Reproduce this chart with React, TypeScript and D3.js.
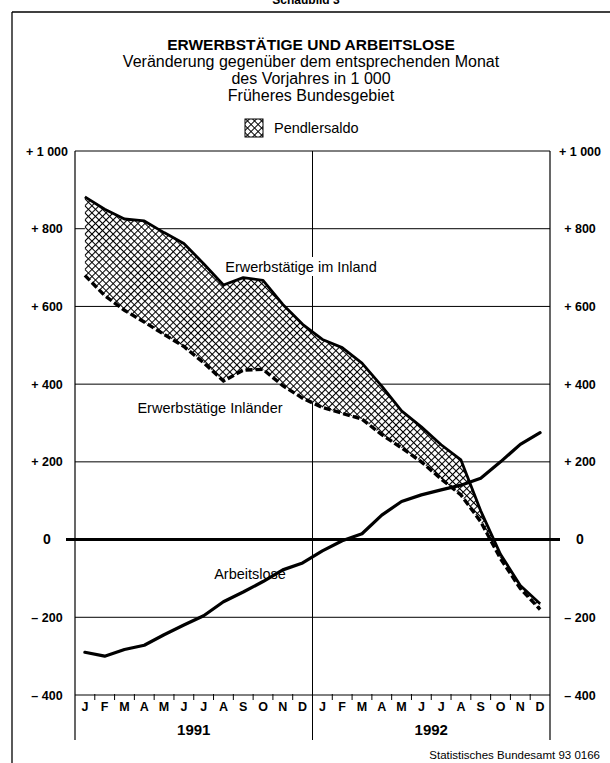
import React from "react";
import * as d3 from "d3";

const monthLetters = ["J", "F", "M", "A", "M", "J", "J", "A", "S", "O", "N", "D"];
const years = ["1991", "1992"];
const yTicks = [1000, 800, 600, 400, 200, 0, -200, -400];
const yTickLabels = ["+ 1 000", "+ 800", "+ 600", "+ 400", "+ 200", "0", "– 200", "– 400"];

// Erwerbstätige im Inland (Veränderung in 1 000)
const inland = [882, 850, 825, 820, 790, 762, 710, 655, 674, 667, 605, 554,
  515, 494, 454, 395, 331, 290, 244, 205, 74, -38, -118, -165];
// Erwerbstätige Inländer
const inlaender = [680, 628, 590, 560, 528, 497, 455, 408, 436, 438, 396, 364,
  340, 325, 310, 270, 236, 200, 156, 115, 46, -49, -126, -180];
// Arbeitslose
const arbeitslose = [-290, -300, -283, -272, -245, -220, -196, -160, -135, -108, -78, -60,
  -29, -3, 15, 63, 98, 115, 128, 140, 158, 200, 245, 275];

const FONT = "'Liberation Sans', Arial, Helvetica, sans-serif";

export default function App() {
  const W = 610, H = 763;
  const x = d3.scaleLinear().domain([0, 24]).range([75, 550]);
  const y = d3.scaleLinear().domain([-400, 1000]).range([695, 151]);
  const idx = d3.range(24);
  const px = (i: number) => x(i + 0.5);

  const area = d3.area<number>()
    .x((i) => px(i))
    .y0((i) => y(inlaender[i]))
    .y1((i) => y(inland[i]));
  const lineOf = (arr: number[]) =>
    d3.line<number>().x((i) => px(i)).y((i) => y(arr[i]))(idx) || "";

  const titleLines = [
    "Veränderung gegenüber dem entsprechenden Monat",
    "des Vorjahres in 1 000",
    "Früheres Bundesgebiet",
  ];

  return (
    <svg width={W} height={H} style={{ position: "absolute", left: 0, top: 0, background: "#fff" }}
      fontFamily={FONT}>
      <defs>
        <pattern id="hatch" patternUnits="userSpaceOnUse" width={5} height={5}
          patternTransform="rotate(45)">
          <rect width={5} height={5} fill="#fff" />
          <path d="M0,0 H5 M0,0 V5" stroke="#000" strokeWidth={2.1} />
        </pattern>
      </defs>
      <rect width={W} height={H} fill="#fff" />
      {/* cut-off heading */}
      <text x={306} y={4} textAnchor="middle" fontSize={12} fontWeight="bold">Schaubild 3</text>
      {/* outer frame */}
      <line x1={12} x2={610} y1={12} y2={12} stroke="#000" strokeWidth={1.3} />
      <line x1={12} x2={12} y1={12} y2={763} stroke="#000" strokeWidth={1.3} />

      {/* titles */}
      <text x={311} y={50} textAnchor="middle" fontSize={15.5} fontWeight="bold">ERWERBSTÄTIGE UND ARBEITSLOSE</text>
      {titleLines.map((t, i) => (
        <text key={i} x={311} y={67 + i * 17} textAnchor="middle" fontSize={16}>{t}</text>
      ))}

      {/* legend */}
      <rect x={245} y={119} width={18} height={18} fill="url(#hatch)" stroke="#000" strokeWidth={1} />
      <text x={274} y={133} fontSize={14.5}>Pendlersaldo</text>

      {/* horizontal grid */}
      {yTicks.filter((v) => v !== 0).map((v) => (
        <line key={v} x1={x(0)} x2={x(24)} y1={y(v)} y2={y(v)} stroke="#000" strokeWidth={1} />
      ))}
      {/* vertical frame lines */}
      <line x1={x(0)} x2={x(0)} y1={y(1000)} y2={740} stroke="#000" strokeWidth={1.2} />
      <line x1={x(12)} x2={x(12)} y1={y(1000)} y2={740} stroke="#000" strokeWidth={1} />
      <line x1={x(24)} x2={x(24)} y1={y(1000)} y2={740} stroke="#000" strokeWidth={1.2} />

      {/* month ticks */}
      {d3.range(1, 24).filter((i) => i !== 12).map((i) => (
        <line key={i} x1={x(i)} x2={x(i)} y1={y(-400) - 1} y2={y(-400) + 5} stroke="#000" strokeWidth={1} />
      ))}

      {/* y labels */}
      {yTicks.map((v, i) => (
        <g key={v}>
          <text x={47} y={y(v) + 4.5} textAnchor="middle" fontSize={v === 0 ? 14 : 12.5}
            fontWeight="bold">{yTickLabels[i]}</text>
          <text x={580} y={y(v) + 4.5} textAnchor="middle" fontSize={v === 0 ? 14 : 12.5}
            fontWeight="bold">{yTickLabels[i]}</text>
        </g>
      ))}

      {/* month letters and years */}
      {idx.map((i) => (
        <text key={i} x={px(i)} y={711} textAnchor="middle" fontSize={12.5} fontWeight="bold">
          {monthLetters[i % 12]}
        </text>
      ))}
      {years.map((yr, k) => (
        <text key={yr} x={x(k * 12 + 6)} y={735} textAnchor="middle" fontSize={15} fontWeight="bold">{yr}</text>
      ))}

      {/* Pendlersaldo area */}
      <path d={area(idx) || ""} fill="url(#hatch)" stroke="none" />
      <path d={lineOf(inland)} fill="none" stroke="#000" strokeWidth={2.8} strokeLinejoin="round" />
      <path d={lineOf(inlaender)} fill="none" stroke="#000" strokeWidth={3.4} strokeDasharray="7,3" />

      {/* zero line */}
      <line x1={66} x2={560} y1={y(0)} y2={y(0)} stroke="#000" strokeWidth={3} />

      {/* Arbeitslose */}
      <path d={lineOf(arbeitslose)} fill="none" stroke="#000" strokeWidth={3.2} strokeLinejoin="round"
        strokeLinecap="round" />

      {/* series labels */}
      <rect x={220} y={257} width={163} height={19} fill="#fff" />
      <text x={301} y={272} textAnchor="middle" fontSize={14.5}>Erwerbstätige im Inland</text>
      <text x={210} y={413} textAnchor="middle" fontSize={14.5}>Erwerbstätige Inländer</text>
      <text x={250} y={579} textAnchor="middle" fontSize={14.5}>Arbeitslose</text>

      {/* footer */}
      <text x={600} y={759} textAnchor="end" fontSize={11.5}>Statistisches Bundesamt 93 0166</text>
    </svg>
  );
}
